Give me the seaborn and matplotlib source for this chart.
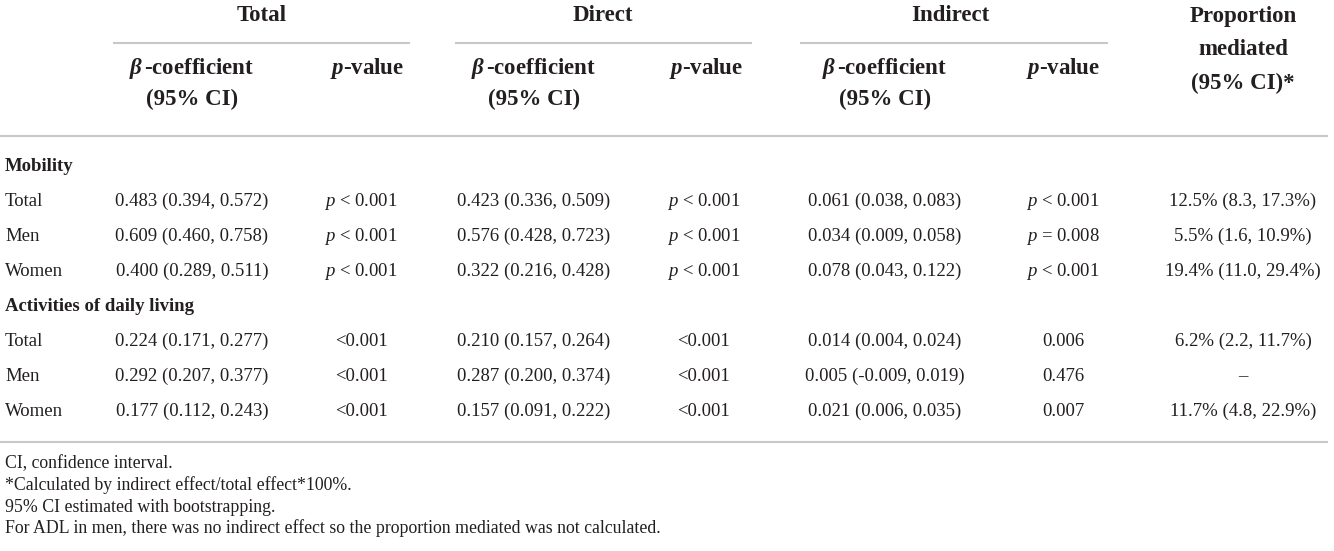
import matplotlib
matplotlib.use("Agg")
from matplotlib import pyplot as plt
import seaborn as sns

## Table content
group_headers = ["Total", "Direct", "Indirect"]
section_labels = ["Mobility", "Activities of daily living"]
row_labels = ["Total", "Men", "Women"]

total_beta = ["0.483 (0.394, 0.572)", "0.609 (0.460, 0.758)", "0.400 (0.289, 0.511)",
              "0.224 (0.171, 0.277)", "0.292 (0.207, 0.377)", "0.177 (0.112, 0.243)"]
total_p = [r"$p$ < 0.001", r"$p$ < 0.001", r"$p$ < 0.001", "<0.001", "<0.001", "<0.001"]
direct_beta = ["0.423 (0.336, 0.509)", "0.576 (0.428, 0.723)", "0.322 (0.216, 0.428)",
               "0.210 (0.157, 0.264)", "0.287 (0.200, 0.374)", "0.157 (0.091, 0.222)"]
direct_p = [r"$p$ < 0.001", r"$p$ < 0.001", r"$p$ < 0.001", "<0.001", "<0.001", "<0.001"]
indirect_beta = ["0.061 (0.038, 0.083)", "0.034 (0.009, 0.058)", "0.078 (0.043, 0.122)",
                 "0.014 (0.004, 0.024)", "0.005 (-0.009, 0.019)", "0.021 (0.006, 0.035)"]
indirect_p = [r"$p$ < 0.001", r"$p$ = 0.008", r"$p$ < 0.001", "0.006", "0.476", "0.007"]
prop_mediated = ["12.5% (8.3, 17.3%)", "5.5% (1.6, 10.9%)", "19.4% (11.0, 29.4%)",
                 "6.2% (2.2, 11.7%)", "\u2013", "11.7% (4.8, 22.9%)"]

footnotes = ["CI, confidence interval.",
             "*Calculated by indirect effect/total effect*100%.",
             "95% CI estimated with bootstrapping.",
             "For ADL in men, there was no indirect effect so the proportion mediated was not calculated."]

## Styling
sns.set_theme(style="white")
plt.rcParams['font.family'] = ['Liberation Serif', 'DejaVu Serif']
plt.rcParams['mathtext.fontset'] = 'custom'
plt.rcParams['mathtext.rm'] = 'Liberation Serif'
plt.rcParams['mathtext.it'] = 'Liberation Serif:italic'
plt.rcParams['mathtext.bf'] = 'Liberation Serif:bold'
plt.rcParams['mathtext.bfit'] = 'Liberation Serif:bold:italic'

text_color = '#231f20'
rule_color = '#c8c8c8'
body_size = 13.5
head_size = 16.5
note_size = 12.8

fig = plt.figure(figsize=(13.34, 5.51), dpi=100)
ax = fig.add_axes([0, 0, 1, 1])
ax.set_xlim(0, 1334)
ax.set_ylim(551, 0)
ax.axis('off')


## Places text so that y is the middle of the lowercase letters (baseline aligned)
def put(x, y, s, size, ha='center', bold=False):
    ax.text(x, y + size * 0.4, s, ha=ha, va='baseline', fontsize=size,
            fontweight='bold' if bold else 'normal', color=text_color)


## Column layout (pixel positions)
col_x = [192, 361, 534, 704, 885, 1063, 1243]
pval_head_x = [367, 706, 1063]
group_x = [262, 603, 950]
group_spans = [(113, 410), (455, 752), (800, 1108)]

## Header
for label, x in zip(group_headers, group_x):
    put(x, 14, label, head_size, bold=True)
for x0, x1 in group_spans:
    ax.hlines(43, x0, x1, color=rule_color, lw=1.5)

for i in range(3):
    bx = col_x[2 * i]
    put(bx, 67, r"$\mathbfit{\beta}\,$-coefficient", head_size, bold=True)
    put(bx, 98, "(95% CI)", head_size, bold=True)
    put(pval_head_x[i], 67, r"$\mathbfit{p}$-value", head_size, bold=True)

for y, line in zip([15, 48, 82], ["Proportion", "mediated", "(95% CI)*"]):
    put(col_x[6], y, line, head_size, bold=True)

ax.hlines(136, 0, 1328, color=rule_color, lw=1.5)

## Body rows
columns = [total_beta, total_p, direct_beta, direct_p, indirect_beta, indirect_p, prop_mediated]
row_step = 35
y = 166
k = 0
for section in section_labels:
    put(5, y, section, body_size, ha='left', bold=True)
    y += row_step
    for label in row_labels:
        put(5, y, label, body_size, ha='left')
        for x, values in zip(col_x, columns):
            put(x, y, values[k], body_size)
        y += row_step
        k += 1

ax.hlines(442, 0, 1328, color=rule_color, lw=1.5)

## Footnotes
for j, note in enumerate(footnotes):
    put(5, 463 + j * 21.7, note, note_size, ha='left')

fig.savefig('out.png', dpi=100)
